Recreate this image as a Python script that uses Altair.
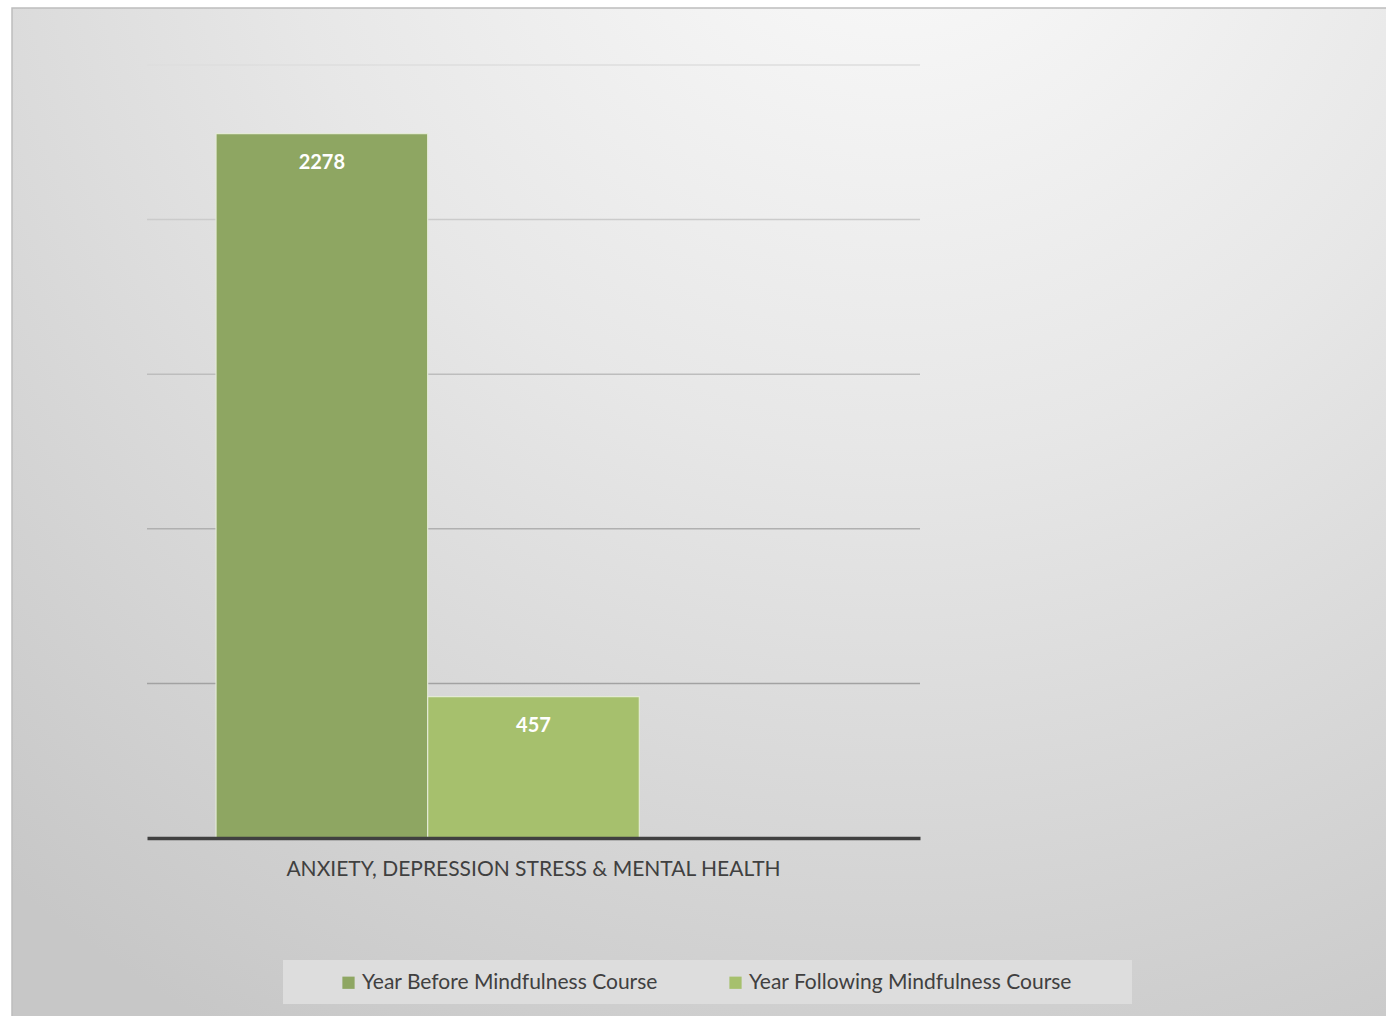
import altair as alt
import pandas as pd

# ---- data ----
categories = ["ANXIETY, DEPRESSION STRESS & MENTAL HEALTH"]
series = ["Year Before Mindfulness Course", "Year Following Mindfulness Course"]
values = [2278, 457]
colors = ["#8ea662", "#a6c06d"]
y_ticks = [500, 1000, 1500, 2000, 2500]
grid_colors = ["#a2a2a2", "#b0b0b0", "#bdbdbd", "#cbcbcb", "#dedede"]

df = pd.DataFrame({
    "category": [categories[0]] * len(series),
    "series": series,
    "value": values,
})
grid_df = pd.DataFrame({"tick": y_ticks})

FONT = "Lato"
W, H = 773, 773

# ---- decoration: gradient background panel and legend box ----
deco = pd.DataFrame({"k": [0]})
bg = alt.Chart(deco).mark_rect(
    fill=alt.RadialGradient(
        gradient="radial",
        stops=[
            alt.GradientStop(offset=0, color="#fcfcfc"),
            alt.GradientStop(offset=0.45, color="#e7e7e7"),
            alt.GradientStop(offset=1, color="#c7c7c7"),
        ],
        x1=0.64, y1=0.0, r1=0.0, x2=0.64, y2=0.0, r2=1.0,
    ),
    stroke="#bdbdbd",
    strokeWidth=1.5,
).encode(
    x=alt.value(-135), x2=alt.value(1245),
    y=alt.value(-57), y2=alt.value(960),
)

legend_box = alt.Chart(deco).mark_rect(fill="#dddddd").encode(
    x=alt.value(136), x2=alt.value(985),
    y=alt.value(895), y2=alt.value(939),
)

y_scale = alt.Scale(domain=[0, 2500], nice=False)

grid = alt.Chart(grid_df).mark_rule(strokeWidth=1.5).encode(
    y=alt.Y("tick:Q", scale=y_scale, axis=None),
    x=alt.value(0), x2=alt.value(W),
    stroke=alt.Stroke("tick:O", scale=alt.Scale(domain=y_ticks, range=grid_colors), legend=None),
)

base = alt.Chart(df).encode(
    x=alt.X(
        "category:N",
        scale=alt.Scale(paddingInner=0, paddingOuter=0.1087),
        axis=alt.Axis(
            title=None, labelAngle=0, ticks=False,
            domainColor="#404040", domainWidth=3.5,
            labelFontSize=21, labelColor="#404040", labelFont=FONT,
            labelPadding=20, labelLimit=0, zindex=1,
        ),
    ),
    xOffset=alt.XOffset(
        "series:N",
        scale=alt.Scale(domain=series + ["(blank)"], paddingInner=0, paddingOuter=0),
    ),
    y=alt.Y("value:Q", scale=y_scale, axis=None),
)

bars = base.mark_bar(stroke="#e4ead6", strokeWidth=1.2).encode(
    color=alt.Color(
        "series:N",
        scale=alt.Scale(domain=series, range=colors),
        legend=alt.Legend(
            title=None, orient="none", direction="horizontal",
            legendX=191, legendY=907,
            symbolType="square", symbolSize=150, symbolStrokeWidth=0,
            labelFontSize=21, labelFont=FONT, labelColor="#404040",
            labelLimit=600, labelOffset=3, columnPadding=67, padding=0,
        ),
    )
)

labels = base.mark_text(
    dy=29, color="white", fontWeight="bold", fontSize=20, font=FONT, baseline="middle"
).encode(text=alt.Text("value:Q"))

chart = alt.layer(bg, legend_box, grid, bars, labels).properties(
    width=W, height=H,
    padding={"left": 147, "top": 65, "right": 466, "bottom": 178},
    autosize=alt.AutoSizeParams(type="none"),
    background="white",
).configure_view(strokeWidth=0)

chart.save("out.html", embed_options={"renderer": "svg", "actions": False})
